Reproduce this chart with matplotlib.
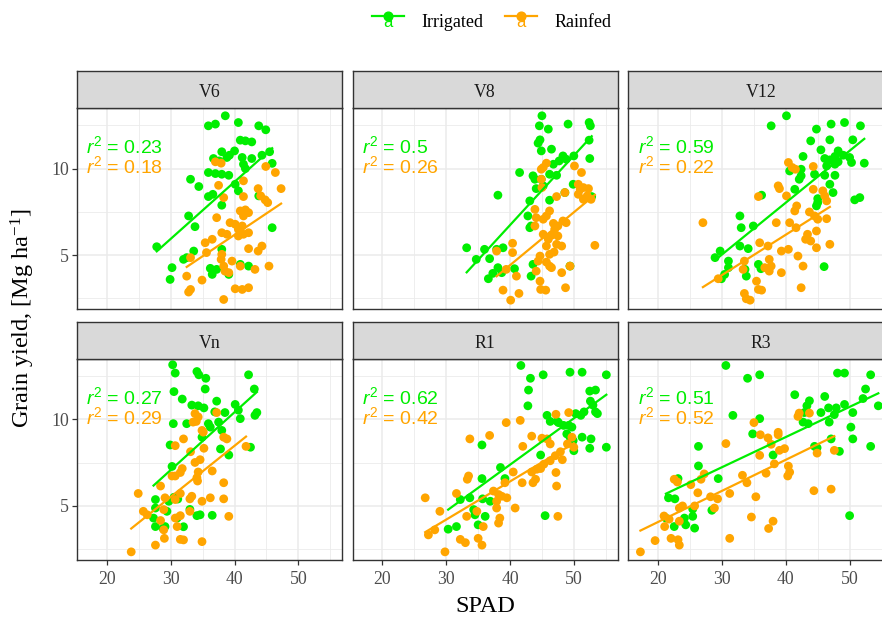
import numpy as np
import matplotlib
matplotlib.use("Agg")
import matplotlib.pyplot as plt
from matplotlib.lines import Line2D
from matplotlib.text import Text
from matplotlib.legend_handler import HandlerBase

plt.rcParams['mathtext.fontset'] = 'custom'
plt.rcParams['mathtext.it'] = 'Liberation Sans:italic'
plt.rcParams['mathtext.rm'] = 'Liberation Sans'

# ---------------- data ----------------
stages = ["V6", "V8", "V12", "Vn", "R1", "R3"]
series = ["Irrigated", "Rainfed"]
colors = {"Irrigated": "#00EE00", "Rainfed": "#FFA500"}

r2_irrigated = ["0.23", "0.5", "0.59", "0.27", "0.62", "0.51"]
r2_rainfed = ["0.18", "0.26", "0.22", "0.29", "0.42", "0.52"]

v6_irr_x = [38.55, 35.9, 37.0, 40.6, 43.8, 44.9, 40.9, 41.7, 42.7, 38.0, 40.0, 39.2, 36.7, 37.6, 38.8, 41.2, 42.7, 44.3, 45.5, 41.4, 41.7, 45.9, 35.9, 37.0, 38.0, 39.1, 33.1, 34.4, 40.1, 40.6, 35.9, 36.6, 38.0, 43.8, 32.8, 33.8, 45.9, 27.8, 33.6, 32.0, 32.5, 38.0, 30.2, 29.9, 36.2, 36.5, 37.2, 39.1, 40.9, 42.2]
v6_irr_y = [13.05, 12.47, 12.57, 12.66, 12.47, 12.24, 11.64, 11.6, 11.54, 10.97, 11.02, 10.77, 10.58, 10.44, 10.64, 10.64, 10.58, 10.77, 10.97, 10.25, 10.0, 10.3, 9.77, 9.71, 9.67, 9.61, 9.38, 8.96, 9.09, 8.71, 8.38, 8.51, 7.88, 8.42, 7.26, 6.64, 6.58, 5.48, 5.23, 4.75, 4.85, 5.33, 4.27, 3.59, 4.23, 3.88, 4.17, 3.88, 4.46, 4.36]
v6_rain_x = [37.0, 37.9, 44.9, 46.4, 47.3, 37.5, 41.4, 38.3, 41.4, 43.7, 44.1, 44.8, 45.2, 37.2, 40.9, 41.7, 42.2, 41.4, 39.3, 40.1, 41.2, 40.6, 38.0, 38.8, 40.6, 41.4, 42.2, 35.4, 36.5, 42.2, 43.7, 44.3, 35.6, 38.0, 37.9, 38.3, 33.1, 39.6, 40.9, 43.2, 45.4, 32.5, 34.9, 38.5, 39.1, 33.1, 32.8, 40.1, 41.2, 42.2, 38.3]
v6_rain_y = [10.39, 10.31, 10.12, 9.77, 8.84, 9.03, 9.29, 8.32, 8.38, 8.84, 8.42, 8.19, 8.03, 7.16, 7.55, 7.61, 7.45, 7.26, 6.87, 6.78, 6.68, 6.49, 6.29, 6.2, 6.1, 6.2, 6.29, 5.71, 5.91, 5.37, 5.23, 5.52, 5.14, 5.04, 4.75, 4.36, 4.85, 4.65, 4.36, 4.17, 4.36, 3.78, 3.55, 4.07, 3.98, 3.01, 2.86, 3.05, 3.01, 3.11, 2.43]

v8_irr_x = [45.0, 44.6, 46.0, 49.1, 52.4, 52.6, 44.7, 44.4, 52.4, 44.9, 46.5, 48.3, 47.7, 46.8, 48.8, 50.0, 52.5, 41.5, 43.6, 43.9, 44.9, 46.2, 47.3, 38.1, 44.1, 45.2, 48.6, 49.9, 52.8, 43.1, 46.2, 42.8, 43.3, 43.1, 33.2, 36.0, 37.9, 38.9, 34.7, 36.8, 38.1, 40.7, 43.6, 43.3, 49.4, 36.6, 37.3, 38.7]
v8_irr_y = [13.05, 12.47, 12.28, 12.57, 12.66, 12.47, 11.66, 11.47, 11.64, 11.02, 11.12, 10.73, 10.44, 10.25, 10.54, 10.73, 10.58, 9.77, 9.58, 9.38, 9.38, 9.67, 9.61, 8.46, 8.84, 9.0, 8.61, 9.09, 8.38, 8.13, 8.17, 7.26, 6.68, 6.58, 5.42, 5.33, 5.33, 5.42, 4.75, 4.79, 4.27, 4.21, 4.46, 3.78, 4.36, 3.63, 3.94, 3.98]
v8_rain_x = [45.2, 44.9, 45.7, 50.1, 51.2, 44.9, 45.0, 47.3, 48.6, 50.7, 51.0, 51.5, 52.3, 50.7, 51.5, 52.1, 52.7, 43.9, 46.2, 45.7, 44.1, 45.2, 48.8, 46.8, 47.5, 47.0, 48.3, 43.9, 45.2, 46.5, 47.5, 46.0, 40.4, 45.7, 47.3, 48.1, 53.3, 37.9, 40.4, 44.7, 46.2, 46.9, 44.4, 45.7, 46.2, 46.5, 39.4, 41.0, 44.1, 48.1, 49.4, 44.7, 44.8, 45.6, 48.7, 38.9, 41.4, 40.1]
v8_rain_y = [10.06, 9.96, 10.31, 10.15, 9.77, 9.38, 8.9, 8.38, 8.61, 9.09, 8.8, 8.9, 8.84, 8.51, 8.22, 8.42, 8.22, 7.64, 7.55, 7.26, 7.16, 7.07, 6.87, 6.83, 6.68, 6.49, 6.97, 6.68, 6.2, 6.14, 6.1, 5.91, 5.68, 5.52, 5.62, 5.52, 5.56, 5.23, 5.14, 4.94, 5.04, 5.17, 4.65, 4.59, 4.36, 4.27, 4.17, 3.78, 4.07, 3.98, 4.36, 3.49, 3.01, 2.97, 3.11, 2.97, 2.78, 2.39]

v12_irr_x = [40.1, 37.7, 44.8, 47.1, 49.2, 51.7, 43.9, 46.9, 50.5, 45.5, 48.2, 49.0, 47.7, 46.1, 46.9, 42.7, 50.0, 50.3, 52.3, 46.4, 47.7, 48.2, 40.6, 42.4, 42.1, 42.4, 44.5, 46.1, 47.7, 46.9, 47.4, 41.4, 36.2, 45.0, 45.0, 44.8, 50.8, 51.6, 32.8, 33.0, 34.9, 32.8, 34.1, 29.7, 28.9, 31.0, 31.0, 30.4, 29.9, 33.6, 33.8, 35.7, 36.1, 46.0]
v12_irr_y = [13.05, 12.47, 12.28, 12.57, 12.66, 12.47, 11.6, 11.66, 11.66, 11.08, 11.02, 10.77, 10.7, 10.58, 10.5, 10.7, 10.64, 10.35, 10.31, 10.15, 10.25, 10.39, 9.86, 9.96, 9.38, 9.58, 9.67, 9.61, 9.61, 9.09, 8.61, 8.8, 8.46, 8.26, 8.03, 7.84, 8.19, 8.32, 7.26, 6.58, 6.68, 5.52, 5.37, 5.23, 4.85, 4.65, 4.27, 3.88, 3.63, 4.17, 3.78, 4.46, 4.21, 4.33]
v12_rain_x = [40.4, 41.0, 41.5, 44.3, 38.8, 39.0, 40.1, 35.7, 41.7, 44.3, 45.8, 46.1, 46.4, 27.0, 38.5, 40.6, 41.6, 41.4, 43.7, 44.5, 45.0, 46.4, 43.4, 43.1, 43.9, 44.8, 44.8, 46.9, 35.9, 37.2, 39.3, 40.4, 41.9, 37.4, 37.7, 36.7, 37.4, 33.5, 33.3, 39.3, 42.7, 29.4, 35.4, 35.7, 36.2, 42.4, 33.5, 33.8, 34.4]
v12_rain_y = [10.35, 10.06, 9.96, 10.12, 9.0, 8.84, 8.42, 8.38, 7.84, 8.8, 8.71, 8.42, 8.13, 6.87, 6.87, 6.87, 6.58, 7.55, 7.49, 7.26, 7.07, 7.1, 6.2, 5.91, 5.81, 6.39, 5.42, 5.62, 5.71, 5.52, 5.23, 5.33, 4.94, 4.75, 4.36, 4.27, 4.07, 4.65, 4.17, 3.98, 4.36, 3.63, 3.49, 3.01, 2.97, 3.11, 2.78, 2.47, 2.39]

vn_irr_x = [30.3, 30.7, 34.1, 34.4, 35.5, 42.2, 30.5, 31.8, 35.4, 43.1, 33.3, 34.3, 35.2, 37.2, 36.9, 38.5, 40.1, 40.6, 40.9, 43.5, 43.2, 30.4, 32.5, 35.9, 36.2, 37.5, 38.0, 34.9, 29.9, 37.8, 39.1, 42.5, 30.2, 27.6, 27.6, 29.7, 29.4, 27.3, 27.6, 29.1, 34.1, 34.6, 36.5, 31.0, 32.0, 30.5, 33.0, 28.8, 31.1]
vn_irr_y = [13.15, 12.67, 12.76, 12.57, 12.37, 12.57, 11.6, 11.17, 11.75, 11.75, 10.82, 10.78, 10.66, 11.05, 10.43, 10.39, 10.86, 10.53, 10.04, 10.39, 10.23, 9.75, 9.75, 9.75, 9.55, 9.84, 9.36, 8.97, 8.52, 8.29, 7.94, 8.39, 7.28, 5.37, 4.88, 5.27, 4.69, 4.3, 3.81, 3.81, 4.44, 4.49, 4.46, 4.3, 3.8, 5.5, 4.8, 3.7, 5.4]
vn_rain_x = [33.8, 34.3, 33.5, 34.0, 37.2, 34.9, 35.1, 32.0, 30.7, 38.3, 38.8, 41.8, 33.1, 35.2, 33.8, 34.6, 31.8, 31.5, 30.7, 30.2, 34.3, 34.1, 34.2, 36.5, 38.3, 38.3, 28.4, 24.9, 31.5, 33.3, 33.0, 29.1, 30.7, 34.9, 36.2, 25.7, 26.3, 28.9, 33.0, 31.5, 30.7, 31.0, 39.1, 28.4, 28.9, 29.0, 27.6, 31.5, 32.0, 34.9, 23.8]
vn_rain_y = [10.33, 10.14, 9.84, 9.88, 10.39, 9.36, 9.26, 8.87, 8.48, 8.97, 8.87, 8.44, 8.13, 8.33, 7.51, 7.67, 7.16, 6.93, 6.73, 6.73, 6.96, 6.63, 6.44, 7.02, 6.34, 5.41, 6.15, 5.72, 5.72, 5.56, 5.41, 5.47, 5.37, 5.27, 5.47, 4.69, 4.49, 4.79, 4.69, 4.44, 4.3, 3.81, 4.4, 4.16, 3.62, 3.13, 2.74, 3.07, 3.04, 2.94, 2.35]

r1_irr_x = [41.7, 43.2, 42.9, 45.2, 49.4, 51.3, 55.1, 42.8, 52.5, 53.4, 52.6, 53.0, 53.4, 53.7, 45.8, 46.3, 47.4, 47.6, 48.4, 49.2, 49.7, 50.3, 51.1, 51.6, 48.9, 49.4, 49.9, 49.7, 51.3, 52.7, 52.5, 55.1, 50.0, 44.8, 35.6, 38.5, 39.2, 35.6, 32.2, 33.7, 35.7, 36.9, 34.3, 34.5, 36.1, 35.0, 31.6, 30.3, 45.5]
r1_irr_y = [13.11, 12.37, 11.69, 12.57, 12.72, 12.72, 12.57, 10.78, 11.63, 11.69, 11.05, 10.82, 10.43, 10.33, 10.23, 9.88, 9.88, 9.81, 9.65, 9.65, 9.55, 10.33, 10.23, 10.43, 9.16, 8.97, 8.77, 8.68, 8.97, 8.87, 8.33, 8.39, 8.19, 7.94, 8.52, 7.22, 6.58, 6.58, 5.37, 5.47, 5.41, 5.27, 4.79, 4.49, 4.4, 3.91, 3.81, 3.66, 4.44]
r1_rain_x = [39.4, 41.6, 47.2, 49.2, 36.8, 33.7, 43.4, 45.0, 46.3, 45.8, 42.0, 49.7, 49.0, 50.0, 47.9, 48.2, 47.1, 46.3, 45.3, 44.8, 44.2, 43.4, 47.2, 47.3, 40.5, 41.9, 43.6, 44.0, 33.5, 33.3, 39.2, 37.4, 38.2, 38.7, 39.5, 37.9, 31.6, 26.7, 29.0, 33.2, 34.8, 37.9, 40.8, 38.4, 38.2, 35.8, 28.2, 27.2, 32.2, 33.0, 35.0, 35.6, 47.5, 29.8]
r1_rain_y = [9.81, 9.94, 10.29, 10.39, 9.07, 8.87, 9.03, 8.91, 8.58, 8.87, 8.44, 8.97, 8.58, 8.39, 8.13, 7.67, 7.9, 7.61, 7.41, 7.16, 7.12, 6.96, 6.93, 6.15, 6.96, 6.34, 6.34, 6.54, 6.73, 6.54, 6.34, 5.86, 5.66, 5.56, 5.47, 5.27, 5.72, 5.47, 4.69, 4.4, 4.69, 4.88, 4.88, 4.3, 4.01, 3.81, 3.62, 3.33, 3.07, 2.88, 3.13, 2.74, 4.4, 2.35]

r3_irr_x = [30.6, 34.0, 35.9, 48.1, 49.2, 53.3, 41.4, 46.1, 52.5, 52.1, 54.5, 43.7, 43.3, 42.9, 45.5, 46.7, 47.9, 49.2, 47.6, 46.8, 50.5, 42.7, 43.5, 31.7, 35.9, 34.8, 50.2, 50.5, 47.1, 44.5, 48.4, 53.3, 44.9, 38.0, 26.3, 26.3, 23.1, 29.4, 21.6, 22.6, 28.4, 25.4, 25.4, 24.1, 22.5, 24.3, 25.7, 21.2, 50.0]
r3_irr_y = [13.11, 12.37, 12.57, 12.67, 12.67, 12.57, 11.42, 11.32, 11.75, 11.2, 10.78, 11.07, 10.78, 10.39, 10.39, 10.66, 10.66, 10.86, 10.27, 9.84, 10.39, 9.84, 9.75, 10.23, 10.04, 9.16, 9.55, 8.87, 8.87, 8.44, 8.15, 8.44, 8.36, 7.94, 8.44, 7.31, 6.58, 6.58, 5.47, 5.41, 4.75, 4.82, 4.4, 4.3, 3.81, 3.91, 3.72, 4.3, 4.44]
r3_rain_x = [41.9, 42.1, 43.7, 35.0, 36.0, 37.2, 37.7, 38.8, 38.8, 30.6, 39.8, 39.0, 44.9, 47.6, 35.9, 38.2, 40.4, 40.6, 40.3, 36.9, 33.2, 33.9, 22.5, 23.0, 27.2, 26.7, 25.1, 31.2, 29.3, 28.2, 26.2, 35.3, 44.4, 47.1, 23.8, 23.3, 25.7, 28.8, 20.9, 21.7, 21.0, 23.3, 34.6, 38.0, 37.3, 22.0, 23.1, 23.3, 19.5, 31.2, 17.2]
r3_rain_y = [10.17, 10.36, 10.36, 9.81, 9.11, 8.93, 8.56, 9.25, 9.11, 8.6, 8.31, 8.21, 8.05, 8.21, 7.92, 7.43, 7.3, 6.95, 6.73, 6.89, 6.77, 6.34, 6.54, 6.38, 6.85, 6.54, 6.23, 5.72, 5.41, 5.53, 5.76, 5.53, 5.88, 5.97, 5.0, 4.88, 5.0, 4.88, 4.42, 4.24, 3.81, 4.12, 4.36, 4.12, 3.7, 3.13, 3.05, 2.74, 3.0, 3.13, 2.35]

panel_data = {
    "V6": ((v6_irr_x, v6_irr_y), (v6_rain_x, v6_rain_y)),
    "V8": ((v8_irr_x, v8_irr_y), (v8_rain_x, v8_rain_y)),
    "V12": ((v12_irr_x, v12_irr_y), (v12_rain_x, v12_rain_y)),
    "Vn": ((vn_irr_x, vn_irr_y), (vn_rain_x, vn_rain_y)),
    "R1": ((r1_irr_x, r1_irr_y), (r1_rain_x, r1_rain_y)),
    "R3": ((r3_irr_x, r3_irr_y), (r3_rain_x, r3_rain_y)),
}

x_limits = (15.3, 56.85)
y_limits = (1.88, 13.5)
x_major = [20, 30, 40, 50]
x_minor = [25, 35, 45, 55]
y_major = [5, 10]
y_minor = [2.5, 7.5, 12.5]

# ---------------- layout ----------------
W, H = 882, 619
fig = plt.figure(figsize=(W / 100, H / 100), dpi=100)

col_left = [77, 352.5, 628.3]
panel_w = 265
rows = [(71, 108, 309), (322, 358.7, 560)]  # strip top, plot top, plot bottom

serif = "Liberation Serif"
sans = "Liberation Sans"
border = "#333333"

for i, st in enumerate(stages):
    r, c = divmod(i, 3)
    s_top, p_top, p_bot = rows[r]
    left = col_left[c] / W
    ax = fig.add_axes([left, 1 - p_bot / H, panel_w / W, (p_bot - p_top) / H])
    sax = fig.add_axes([left, 1 - p_top / H, panel_w / W, (p_top - s_top) / H])
    sax.set_facecolor("#D9D9D9")
    sax.set_xticks([]); sax.set_yticks([])
    for sp in sax.spines.values():
        sp.set_color(border); sp.set_linewidth(1.0)
    sax.text(0.5, 0.42, st, ha="center", va="center", fontsize=12.8,
             family=serif, color="#1A1A1A", transform=sax.transAxes)

    ax.set_xlim(*x_limits)
    ax.set_ylim(*y_limits)
    ax.set_xticks(x_major); ax.set_xticks(x_minor, minor=True)
    ax.set_yticks(y_major); ax.set_yticks(y_minor, minor=True)
    ax.grid(which="major", color="#EBEBEB", lw=1.1)
    ax.grid(which="minor", color="#EBEBEB", lw=0.6)
    ax.set_axisbelow(True)
    for sp in ax.spines.values():
        sp.set_color(border); sp.set_linewidth(1.0)
    ax.tick_params(which="minor", length=0)
    ax.tick_params(which="major", length=3.5, width=0.9, color=border,
                   labelsize=12.8, labelcolor="#4D4D4D")
    ax.tick_params(axis="x", which="major", pad=4.5)
    ax.tick_params(axis="y", which="major", pad=2.5)
    for lab in ax.get_xticklabels() + ax.get_yticklabels():
        lab.set_family(serif)
    if r == 0:
        ax.tick_params(axis="x", which="major", length=0, labelbottom=False)
    if c != 0:
        ax.tick_params(axis="y", which="major", length=0, labelleft=False)

    groups = panel_data[st]
    for (gx, gy), name in zip(groups, series):
        ax.scatter(gx, gy, s=40, color=colors[name], edgecolors="none", zorder=3)
    for (gx, gy), name in zip(groups, series):
        gx = np.asarray(gx); gy = np.asarray(gy)
        b, a = np.polyfit(gx, gy, 1)
        xs = np.array([gx.min(), gx.max()])
        ax.plot(xs, a + b * xs, color=colors[name], lw=1.6, zorder=4)

    ax.text(0.035, 0.81, r"$r^2$ = " + r2_irrigated[i], transform=ax.transAxes,
            color=colors["Irrigated"], fontsize=14, family=sans, va="center", ha="left")
    ax.text(0.035, 0.71, r"$r^2$ = " + r2_rainfed[i], transform=ax.transAxes,
            color=colors["Rainfed"], fontsize=14, family=sans, va="center", ha="left")

# axis titles
fig.text(485 / W, 1 - 606 / H, "SPAD", ha="center", va="center",
         fontsize=17.5, family=serif)
fig.text(23 / W, 1 - 318 / H, r"Grain yield, [Mg ha$\mathregular{^{-1}}$]", ha="center",
         va="center", rotation=90, fontsize=17.5, family=serif)

# legend
class KeyHandler(HandlerBase):
    def create_artists(self, legend, orig_handle, xdescent, ydescent, width,
                       height, fontsize, trans):
        col = orig_handle.get_color()
        x0, x1 = -xdescent, width - xdescent
        yc = (height - ydescent) / 2
        ln = Line2D([x0, x1], [yc + 3.5, yc + 3.5], color=col, lw=1.6, transform=trans)
        mk = Line2D([(x0 + x1) / 2], [yc + 3.5], marker="o", ms=6.3, color=col,
                    ls="none", transform=trans)
        tx = Text((x0 + x1) / 2, yc - 1.5, "a", color=col, ha="center", va="center",
                  fontsize=12, family=sans, transform=trans)
        return [ln, mk, tx]

handles = [Line2D([], [], color=colors[n]) for n in series]
fig.legend(handles, series, loc="center", bbox_to_anchor=(492 / W, 1 - 22.5 / H),
           ncol=2, frameon=False, handler_map={Line2D: KeyHandler()},
           prop={"family": serif, "size": 13}, handlelength=1.75,
           handletextpad=1.0, columnspacing=1.2)

fig.savefig("out.png", dpi=100)
